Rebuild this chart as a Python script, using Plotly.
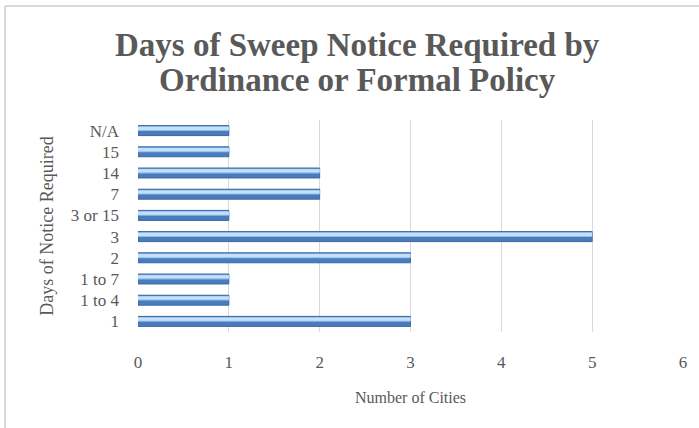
import plotly.graph_objects as go

categories = ["1", "1 to 4", "1 to 7", "2", "3", "3 or 15", "7", "14", "15", "N/A"]
cities = [3, 1, 1, 3, 5, 1, 2, 2, 1, 1]
x_ticks = [0, 1, 2, 3, 4, 5, 6]
title_lines = ["Days of Sweep Notice Required by", "Ordinance or Formal Policy"]

GRAY = "#595959"
FONT = "Liberation Serif"
L, R, T, B = 138, 16, 120, 96
PW, PH = 699 - L - R, 428 - T - B

fig = go.Figure()
# base (darker) bar
fig.add_trace(go.Bar(
    y=categories, x=cities, orientation="h", width=0.47,
    marker=dict(color="#4a7cbd", line=dict(color="#3a68a3", width=1)),
    hoverinfo="x+y", showlegend=False,
))
# lighter upper band to mimic the gradient
fig.add_trace(go.Bar(
    y=categories, x=cities, orientation="h", width=0.22, offset=-0.02,
    marker=dict(color="#8fbbe8", line=dict(width=0)),
    hoverinfo="skip", showlegend=False,
))
fig.add_trace(go.Bar(
    y=categories, x=cities, orientation="h", width=0.15, offset=0.03,
    marker=dict(color="#c3e1fa", line=dict(width=0)),
    hoverinfo="skip", showlegend=False,
))

annotations = []
for i, line in enumerate(title_lines):
    yc = 45 + i * 35
    annotations.append(dict(
        text=f"<b>{line}</b>", xref="paper", yref="paper",
        x=(357 - L) / PW, y=(428 - B - yc) / PH, xanchor="center", yanchor="middle",
        showarrow=False, font=dict(family=FONT, size=33, color=GRAY),
    ))

fig.update_layout(
    width=699, height=428,
    margin=dict(l=L, r=R, t=T, b=B),
    paper_bgcolor="white", plot_bgcolor="white",
    barmode="overlay",
    annotations=annotations,
    xaxis=dict(
        range=[0, 6], tickvals=x_ticks, showgrid=True, gridcolor="#d9d9d9",
        gridwidth=1, zeroline=False, showline=False,
        tickfont=dict(family=FONT, size=17, color=GRAY),
        ticklabelstandoff=18,
        title=dict(text="Number of Cities", font=dict(family=FONT, size=16, color=GRAY), standoff=20),
    ),
    yaxis=dict(
        type="category", categoryorder="array", categoryarray=categories,
        tickmode="array", tickvals=categories, ticktext=categories,
        range=[-0.5, 9.5], showgrid=False, zeroline=False, showline=False,
        tickfont=dict(family=FONT, size=17, color=GRAY),
        ticklabelstandoff=18,
        title=dict(text="Days of Notice Required", font=dict(family=FONT, size=18, color=GRAY), standoff=12),
    ),
    shapes=[
        dict(type="line", xref="paper", yref="paper",
             x0=(5 - L) / PW, x1=(699 - L) / PW,
             y0=(428 - B - 6) / PH, y1=(428 - B - 6) / PH,
             line=dict(color="#d9d9d9", width=2)),
        dict(type="line", xref="paper", yref="paper",
             x0=(5 - L) / PW, x1=(5 - L) / PW,
             y0=(428 - B - 6) / PH, y1=(-B) / PH,
             line=dict(color="#d9d9d9", width=2)),
    ],
)

fig.write_html("out.html", config={"displayModeBar": False},
               post_script="document.body.style.margin='0';")
